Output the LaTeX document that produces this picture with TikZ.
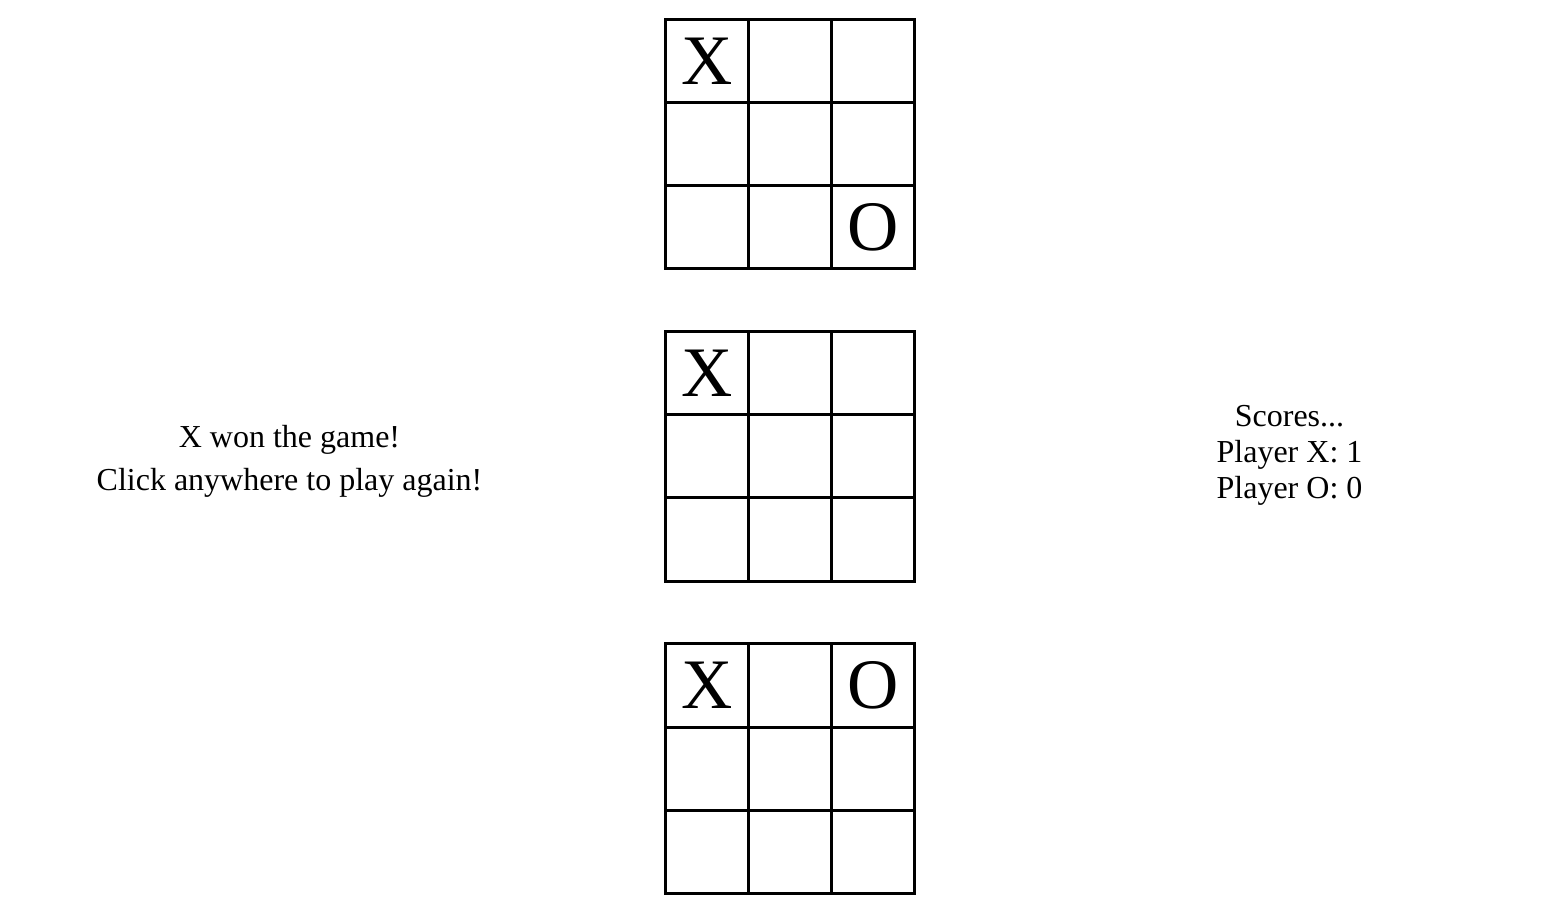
\documentclass[tikz,border=0pt]{standalone}
\usepackage{fontspec}
\setmainfont{Liberation Serif}
\begin{document}
\begin{tikzpicture}[x=1pt,y=-1pt]\tikzset{cell/.style = {shape=rectangle, draw, line width=3pt, minimum size=83.2pt, inner sep=0pt}, piece/.style = {inner sep=0pt, font=\fontsize{71}{84}\selectfont}, msg/.style = {anchor=base, inner sep=0pt, font=\fontsize{32}{38}\selectfont}}

	\useasboundingbox (0,0) rectangle (1544,920);

	\foreach \b/\ytop in {1/19.2, 2/331.5, 3/643.8} {
		\foreach \r in {1,2,3} {
			\foreach \c in {1,2,3} {
				\node[cell] (b\b-\r\c) at ({665.2+83.2*(\c-0.5)}, {\ytop+83.2*(\r-0.5)}) {};
			}
		}
	}

	\node[piece] (X_1) at (b1-11) {X};
	\node[piece] (O_1) at (b1-33) {O};
	\node[piece] (X_2) at (b2-11) {X};
	\node[piece] (X_3) at (b3-11) {X};
	\node[piece] (O_3) at (b3-13) {O};

	\node[msg] (won) at (289.5,447) {X won the game!};
	\node[msg] (again) at (289.5,490.3) {Click anywhere to play again!};

	\node[msg] (scores) at (1289.5,426.5) {Scores...};
	\node[msg] (score_X) at (1289.5,462.5) {Player X: 1};
	\node[msg] (score_O) at (1289.5,498) {Player O: 0};
\end{tikzpicture}
\end{document}
